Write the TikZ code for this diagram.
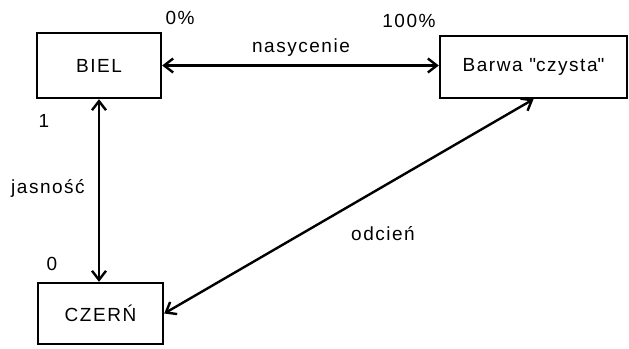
\documentclass[tikz,border=0pt]{standalone}
\usepackage{fontspec}
\setmainfont{Liberation Sans}[LetterSpace=8]
\usetikzlibrary{arrows.meta}
\begin{document}
\begin{tikzpicture}[x=1pt,y=-1pt,
  box/.style={draw,line width=2.4pt,inner sep=0pt,font=\fontsize{19}{21}\selectfont},
  lbl/.style={inner sep=0pt,font=\fontsize{19}{21}\selectfont},
  tip/.tip={Straight Barb[length=9pt,width=14pt,line width=2.4pt]},
  link/.style={line width=2.4pt,tip-tip}]
\useasboundingbox (0,0) rectangle (629,348);
\node[box,minimum width=124pt,minimum height=65pt] (biel) at (99,65.5) {BIEL};
\node[box,minimum width=187pt,minimum height=62pt] (barwa) at (533.5,67) {Barwa \textquotedbl czysta\textquotedbl};
\node[box,minimum width=125pt,minimum height=61pt] (czern) at (100.5,313.5) {CZERŃ};
\draw[link] (biel.east) -- (biel.east -| barwa.west);
\draw[link] (biel.south) -- (biel.south |- czern.north);
\draw[link] (barwa.south) -- (czern.east);
\node[lbl] (p0) at (180,18) {0\%};
\node[lbl] (p100) at (409,21) {100\%};
\node[lbl] (nas) at (301,48) {nasycenie};
\node[lbl] (one) at (44,121) {1};
\node[lbl] (jas) at (48,188) {jasność};
\node[lbl] (zero) at (52,264) {0};
\node[lbl] (odc) at (383,234) {odcień};
\end{tikzpicture}
\end{document}
